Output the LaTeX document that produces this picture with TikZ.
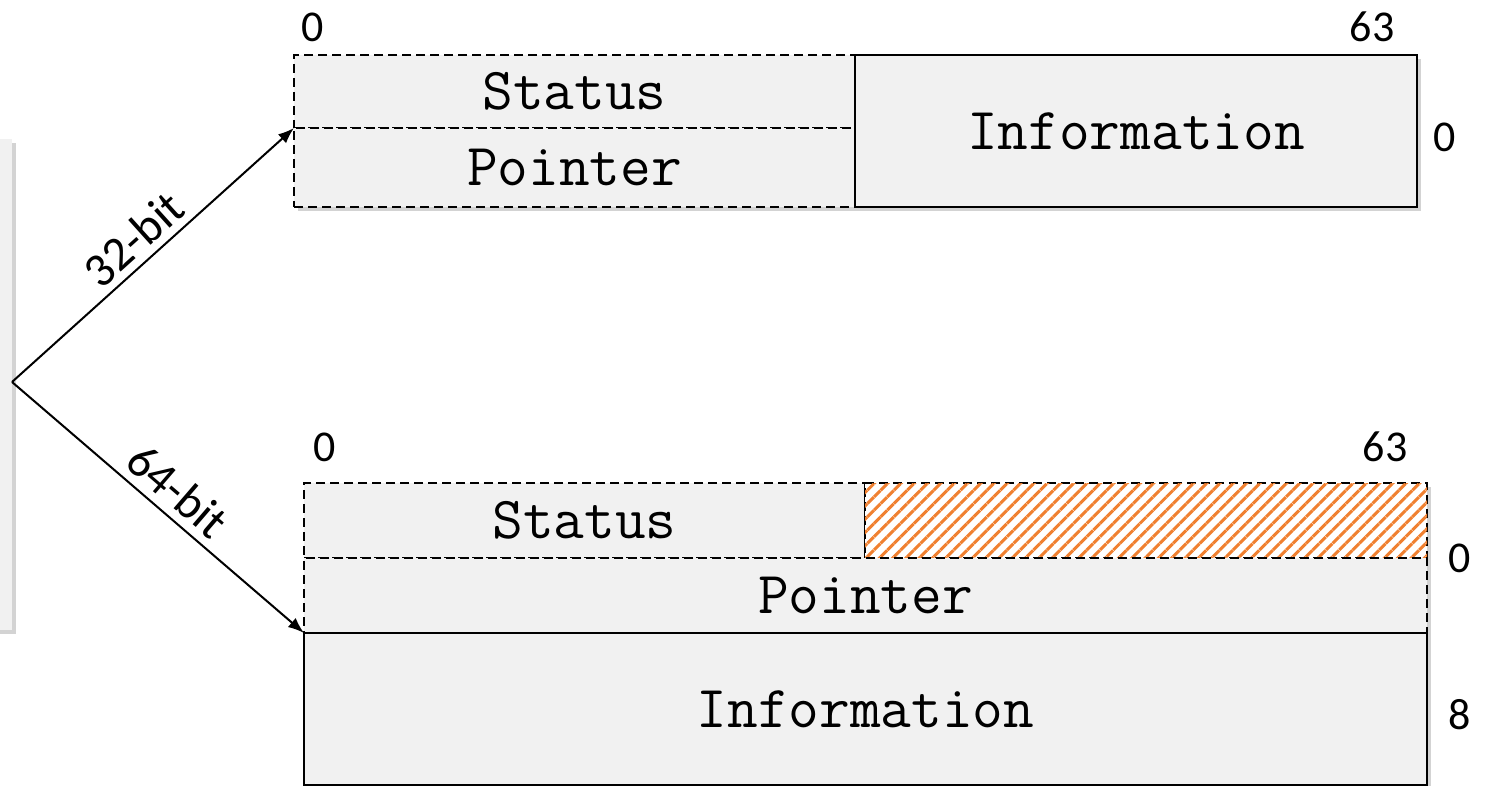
\documentclass[tikz,border=0pt]{standalone}
\usepackage{fontspec}
\setmonofont{Latin Modern Mono}
\newfontfamily\labelfont{Carlito}
\usetikzlibrary{arrows.meta,shadows,patterns.meta}
\definecolor{cellgray}{HTML}{F1F1F1}
\definecolor{hatchorange}{HTML}{F08030}
\tikzset{
  cell/.style={draw=black, line width=0.9pt, fill=cellgray, inner sep=0pt, outer sep=0pt,
    font=\ttfamily\fontsize{29.8}{29.8}\selectfont},
  dashcell/.style={cell, dash pattern=on 4.5pt off 2.5pt},
  hatchcell/.style={cell, dash pattern=on 4.5pt off 2.5pt, fill=white,
    postaction={pattern={Lines[angle=45,distance=4.7pt,line width=1.5pt]}, pattern color=hatchorange}},
  boxshadow/.style={fill=cellgray, draw=none,
    drop shadow={opacity=0.35, shadow xshift=2pt, shadow yshift=-2pt}},
  bitlabel/.style={font=\labelfont\fontsize{22}{22}\selectfont, inner sep=0pt},
  widthlabel/.style={font=\labelfont\fontsize{24}{24}\selectfont, inner sep=0pt},
  linkarrow/.style={line width=1pt, -{Latex[length=8pt,width=6pt]}},
}
\begin{document}
\begin{tikzpicture}[x=0.5pt,y=-0.5pt]
\useasboundingbox (0,0) rectangle (1488,786);

% cut-off source panel on the left edge
\path[boxshadow] (-10,139) rectangle (12,630);

% ---- 32-bit layout ----
\path[boxshadow] (294,55) rectangle (1417,207);
\node[dashcell, minimum width=280.5pt, minimum height=36.5pt] (s32) at (574.5,91.5) {Status};
\node[dashcell, minimum width=280.5pt, minimum height=39.5pt] (p32) at (574.5,167.5) {Pointer};
\node[cell, minimum width=281pt, minimum height=76pt] (i32) at (1136,131) {Information};

\node[bitlabel] (l32a) at (313,27) {0};
\node[bitlabel] (l32b) at (1372,27) {63};
\node[bitlabel] (l32c) at (1445,137) {0};

% ---- 64-bit layout ----
\path[boxshadow] (304,483) rectangle (1427,785);
\node[dashcell, minimum width=280.5pt, minimum height=37.5pt] (s64) at (584.5,520.5) {Status};
\node[hatchcell, minimum width=281pt, minimum height=37.5pt] (h64) at (1146,520.5) {};
\node[dashcell, minimum width=561.5pt, minimum height=37.5pt] (p64) at (865.5,595.5) {Pointer};
\node[cell, minimum width=561.5pt, minimum height=76pt] (i64) at (865.5,709) {Information};

\node[bitlabel] (l64a) at (325,447) {0};
\node[bitlabel] (l64b) at (1385,447) {63};
\node[bitlabel] (l64c) at (1460,558) {0};
\node[bitlabel] (l64d) at (1460,715) {8};

% ---- branching arrows ----
\coordinate (src) at (12,382);
\draw[linkarrow] (src) -- (s32.south west)
  node[pos=0.49, sloped, above=3.5pt, widthlabel] (t32) {32-bit};
\draw[linkarrow] (src) -- (p64.south west)
  node[pos=0.51, sloped, above=4pt, widthlabel] (t64) {64-bit};
\end{tikzpicture}
\end{document}
